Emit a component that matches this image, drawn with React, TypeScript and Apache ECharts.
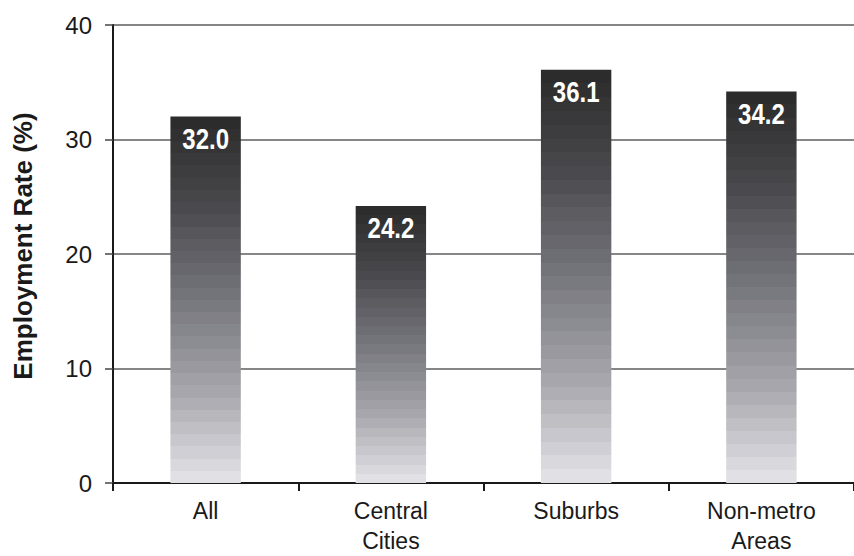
import React, { useEffect, useRef } from "react";
import * as echarts from "echarts";

const categories = ["All", "Central\nCities", "Suburbs", "Non-metro\nAreas"];
const rates = [32.0, 24.2, 36.1, 34.2];
const yTicks = { min: 0, max: 40, interval: 10 };

// Shade ramp for the bars, dark at the top fading to a pale grey at the base
const ramp: [number, number[]][] = [
  [0, [42, 42, 42]],
  [0.25, [74, 74, 78]],
  [0.5, [118, 118, 125]],
  [0.75, [166, 166, 172]],
  [1, [228, 228, 233]],
];
const BANDS = 30;

function rampColor(t: number): string {
  for (let i = 1; i < ramp.length; i++) {
    const [t1, c1] = ramp[i];
    const [t0, c0] = ramp[i - 1];
    if (t <= t1) {
      const f = (t - t0) / (t1 - t0);
      const c = c0.map((v, k) => Math.round(v + (c1[k] - v) * f));
      return `rgb(${c[0]},${c[1]},${c[2]})`;
    }
  }
  const c = ramp[ramp.length - 1][1];
  return `rgb(${c[0]},${c[1]},${c[2]})`;
}

function bandedGradient() {
  const stops: { offset: number; color: string }[] = [];
  for (let i = 0; i < BANDS; i++) {
    const color = rampColor((i + 0.5) / BANDS);
    stops.push({ offset: i / BANDS, color });
    stops.push({ offset: (i + 1) / BANDS, color });
  }
  return new echarts.graphic.LinearGradient(0, 0, 0, 1, stops);
}

export default function App() {
  const ref = useRef<HTMLDivElement>(null);

  useEffect(() => {
    if (!ref.current) return;
    const chart = echarts.init(ref.current, undefined, { renderer: "svg" });
    chart.setOption({
      animation: false,
      backgroundColor: "#ffffff",
      grid: { left: 113, right: 0, top: 25, bottom: 66, containLabel: false },
      graphic: [
        {
          type: "text",
          x: 23,
          y: 246,
          rotation: Math.PI / 2,
          style: {
            text: "Employment Rate (%)",
            font: "bold 26px 'Liberation Sans', Arial, sans-serif",
            fill: "#1a1a1a",
            textAlign: "center",
            textVerticalAlign: "middle",
          },
        },
      ],
      xAxis: {
        type: "category",
        data: categories,
        boundaryGap: true,
        axisLine: { show: true, lineStyle: { color: "#1a1a1a", width: 2 } },
        axisTick: { show: true, length: 8, lineStyle: { color: "#1a1a1a", width: 2 } },
        axisLabel: {
          color: "#1a1a1a",
          fontFamily: "'Liberation Sans', Arial, sans-serif",
          fontSize: 23,
          lineHeight: 30,
          margin: 13,
        },
        splitLine: { show: false },
      },
      yAxis: {
        type: "value",
        min: yTicks.min,
        max: yTicks.max,
        interval: yTicks.interval,
        axisLine: { show: true, lineStyle: { color: "#1a1a1a", width: 2 } },
        axisTick: { show: true, length: 8, lineStyle: { color: "#444", width: 1.5 } },
        axisLabel: {
          color: "#1a1a1a",
          fontFamily: "'Liberation Sans', Arial, sans-serif",
          fontSize: 24,
          margin: 21,
        },
        splitLine: { show: true, lineStyle: { color: "#5e5e5e", width: 1.5 } },
      },
      series: [
        {
          type: "bar",
          data: rates,
          barWidth: "38%",
          itemStyle: { color: bandedGradient() },
        },
        {
          // Value captions set in a condensed bold face just inside each bar's top
          type: "custom",
          data: rates.map((v, i) => [i, v]),
          z: 5,
          renderItem: (_params: any, api: any) => {
            const pt = api.coord([api.value(0), api.value(1)]);
            return {
              type: "text",
              x: pt[0],
              y: pt[1] + 7,
              scaleX: 0.8,
              style: {
                text: Number(api.value(1)).toFixed(1),
                font: "bold 30px 'Liberation Sans', Arial, sans-serif",
                fill: "#ffffff",
                textAlign: "center",
                textVerticalAlign: "top",
              },
            };
          },
        },
      ],
    });
    return () => chart.dispose();
  }, []);

  return (
    <div
      ref={ref}
      style={{ position: "fixed", left: 0, top: 0, width: 854, height: 556 }}
    />
  );
}
